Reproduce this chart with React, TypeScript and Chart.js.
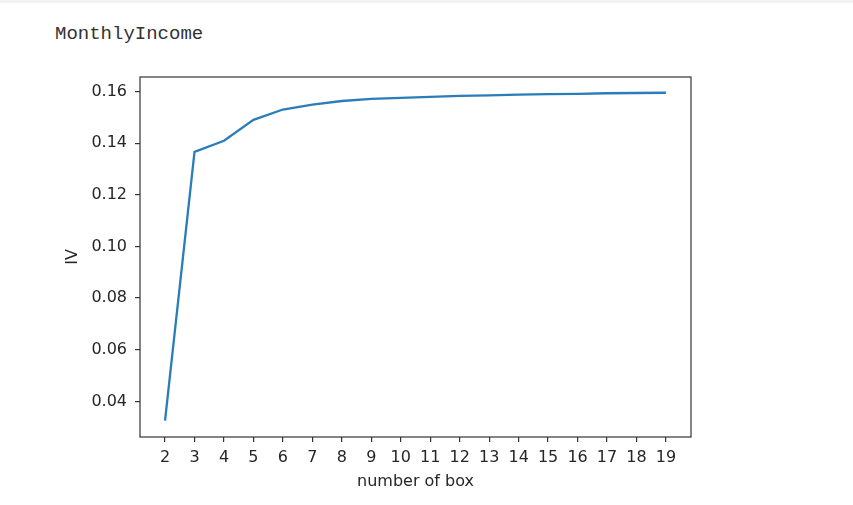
import React, { useEffect, useRef } from "react";
import { Chart, registerables } from "chart.js";

Chart.register(...registerables);

const boxCounts = [2, 3, 4, 5, 6, 7, 8, 9, 10, 11, 12, 13, 14, 15, 16, 17, 18, 19];
const ivValues = [
  0.0325, 0.1366, 0.1409, 0.1490, 0.1530, 0.1549, 0.1563, 0.1571, 0.1575, 0.1579,
  0.1583, 0.1585, 0.1588, 0.1590, 0.1591, 0.1593, 0.1594, 0.1595,
];
const xTicks = [2, 3, 4, 5, 6, 7, 8, 9, 10, 11, 12, 13, 14, 15, 16, 17, 18, 19];
const yTicks = [0.04, 0.06, 0.08, 0.1, 0.12, 0.14, 0.16];
const titleText = "MonthlyIncome";
const xLabel = "number of box";
const yLabel = "IV";

const framePlugin = {
  id: "frame",
  afterDatasetsDraw(chart: any) {
    const { ctx, chartArea } = chart;
    ctx.save();
    ctx.strokeStyle = "#333";
    ctx.lineWidth = 1.2;
    ctx.strokeRect(chartArea.left, chartArea.top, chartArea.right - chartArea.left, chartArea.bottom - chartArea.top);
    ctx.restore();
  },
};

export default function App() {
  const ref = useRef<HTMLCanvasElement | null>(null);
  useEffect(() => {
    if (!ref.current) return;
    const font = { family: "DejaVu Sans", size: 16 };
    const chart = new Chart(ref.current, {
      type: "line",
      data: {
        datasets: [
          {
            data: boxCounts.map((x, i) => ({ x, y: ivValues[i] })),
            borderColor: "#2a7db8",
            borderWidth: 2.3,
            pointRadius: 0,
            tension: 0,
            fill: false,
          },
        ],
      },
      options: {
        animation: false,
        responsive: false,
        maintainAspectRatio: false,
        layout: { padding: { left: 59, top: 77, right: 162, bottom: 10 } },
        plugins: { legend: { display: false }, tooltip: { enabled: false } },
        scales: {
          x: {
            type: "linear",
            min: 1.15,
            max: 19.85,
            afterBuildTicks: (s: any) => {
              s.ticks = xTicks.map((v) => ({ value: v }));
            },
            afterFit: (s: any) => {
              s.height = 58;
            },
            ticks: {
              color: "#262626",
              font,
              padding: 6,
              maxRotation: 0,
              autoSkip: false,
              callback: (v: any) => String(v),
            },
            grid: { display: true, drawOnChartArea: false, drawTicks: true, tickLength: 5, color: "#333", lineWidth: 1.2 },
            border: { display: false },
            title: { display: true, text: xLabel, color: "#262626", font, padding: { top: 4, bottom: 4 } },
          },
          y: {
            type: "linear",
            min: 0.0262,
            max: 0.1656,
            afterBuildTicks: (s: any) => {
              s.ticks = yTicks.map((v) => ({ value: v }));
            },
            afterFit: (s: any) => {
              s.width = 81;
            },
            ticks: {
              color: "#262626",
              font,
              padding: 8,
              callback: (v: any) => Number(v).toFixed(2),
            },
            grid: { display: true, drawOnChartArea: false, drawTicks: true, tickLength: 5, color: "#333", lineWidth: 1.2 },
            border: { display: false },
            title: { display: true, text: yLabel, color: "#262626", font, padding: { top: 4, bottom: 4 } },
          },
        },
      },
      plugins: [framePlugin],
    } as any);
    return () => chart.destroy();
  }, []);

  return (
    <div style={{ position: "absolute", left: 0, top: 0, width: 853, height: 505, background: "#fff", overflow: "hidden" }}>
      <div style={{ position: "absolute", left: 0, top: 0, width: 853, height: 3, background: "#f2f2f2" }} />
      <div
        style={{
          position: "absolute",
          left: 55,
          top: 25,
          fontFamily: "'Liberation Mono', monospace",
          fontSize: 19,
          lineHeight: "19px",
          color: "#333",
          whiteSpace: "nowrap",
        }}
      >
        {titleText}
      </div>
      <canvas ref={ref} width={853} height={505} style={{ position: "absolute", left: 0, top: 0, width: 853, height: 505 }} />
    </div>
  );
}
